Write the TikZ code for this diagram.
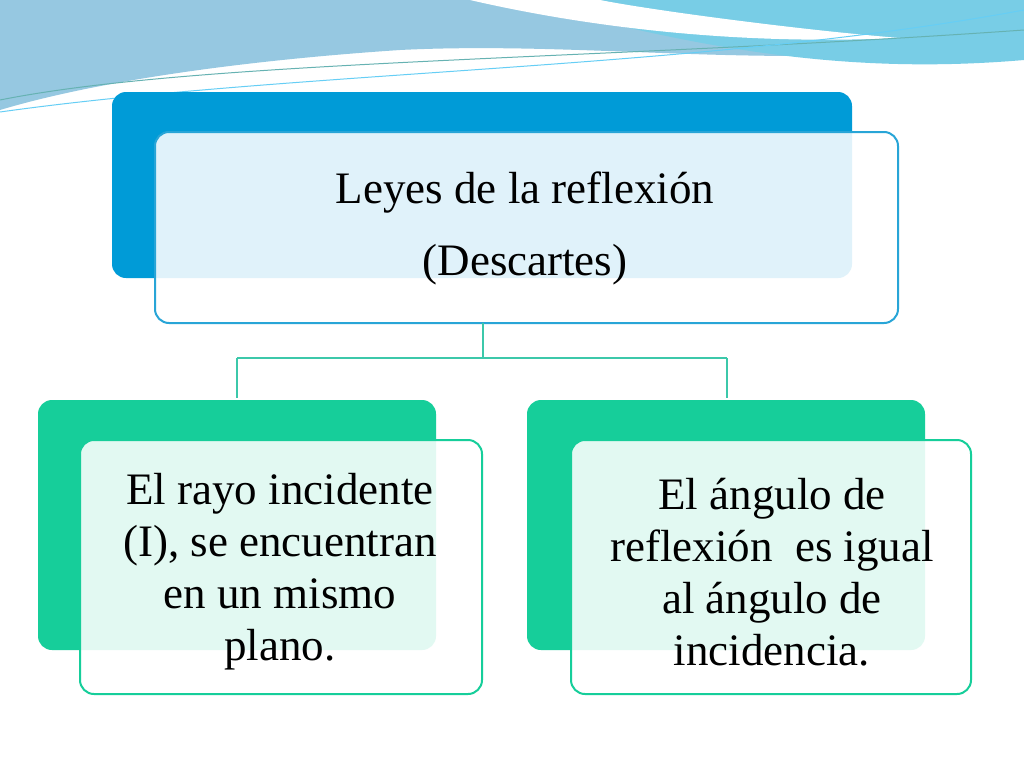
\documentclass[tikz,border=0pt]{standalone}
\usepackage{fontspec}
\setmainfont{Liberation Serif}
\definecolor{waveA}{RGB}{150,200,225}
\definecolor{waveB}{RGB}{120,205,230}
\definecolor{bluebk}{RGB}{0,155,215}
\definecolor{bluefr}{RGB}{40,165,215}
\definecolor{greenbk}{RGB}{22,206,154}
\definecolor{conncol}{RGB}{60,200,170}
\begin{document}
\begin{tikzpicture}[x=1pt,y=-1pt,
  back/.style={rounded corners=14pt},
  front/.style={rounded corners=14pt,fill=white,fill opacity=0.88,line width=2pt},
  txt/.style={align=center,font=\fontsize{45}{52}\selectfont,text=black},
  conn/.style={draw=conncol,line width=2pt}]
\useasboundingbox (0,0) rectangle (1024,768);
\fill[white] (0,0) rectangle (1024,768);
% top waves
\fill[waveA] (0,0) -- (1024,0) -- (1024,40) .. controls (800,75) and (600,40) .. (400,50) .. controls (250,60) and (100,80) .. (0,110) -- cycle;
\fill[waveB] (520,0) -- (1024,0) -- (1024,60) .. controls (850,75) and (700,50) .. (520,0) -- cycle;
\fill[white] (470,0) .. controls (600,30) and (750,45) .. (900,38) .. controls (800,30) and (650,10) .. (600,0) -- cycle;
\draw[teal!60,line width=1pt] (0,100) .. controls (200,60) and (600,60) .. (1024,30);
\draw[cyan!60,line width=1pt] (0,112) .. controls (300,70) and (700,70) .. (1024,10);
% connectors
\coordinate (j) at (483,358);
\coordinate (jl) at (237,358);
\coordinate (jr) at (727,358);
% top
\fill[back,fill=bluebk] (112,92) rectangle (852,278);
\draw[front,draw=bluefr] (155,132) rectangle (898,323);
\node[txt,font=\fontsize{45}{72}\selectfont] (top) at (525,228) {Leyes de la reflexión\\(Descartes)};
% bottom
\fill[back,fill=greenbk] (38,400) rectangle (436,650);
\draw[front,draw=greenbk] (80,440) rectangle (482,694);
\node[txt] (l) at (280,572) {El rayo incidente\\(I), se encuentran\\en un mismo\\plano.};
\fill[back,fill=greenbk] (527,400) rectangle (925,650);
\draw[front,draw=greenbk] (571,440) rectangle (971,694);
\node[txt] (r) at (772,572) {El ángulo de\\reflexión\ \ es igual\\al ángulo de\\incidencia.};
\draw[conn] (483,323) -- (j) (jl) -- (jr) (jl) -- (237,398) (jr) -- (727,398);
\end{tikzpicture}
\end{document}
